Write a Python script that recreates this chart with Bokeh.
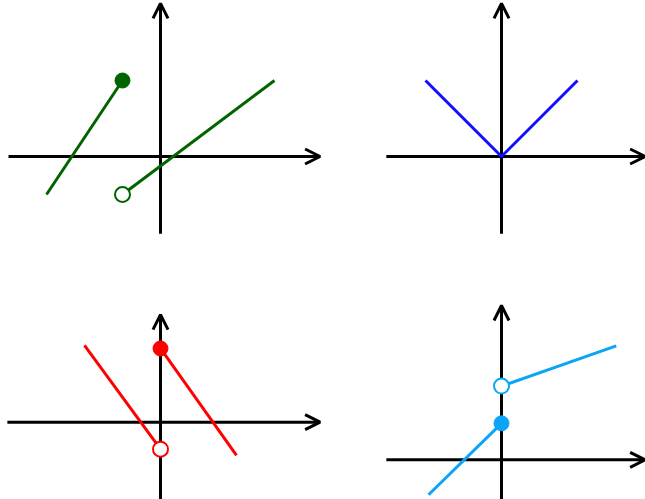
from bokeh.plotting import figure
from bokeh.layouts import column, row
from bokeh.models import Arrow, OpenHead, Range1d
from bokeh.embed import file_html
from bokeh.resources import INLINE

# ---- data (units) ----
# Panel 1: dark green, jump at x=-1
p1_seg_a_x = [-3, -1]
p1_seg_a_y = [-1, 2]
p1_seg_b_x = [-1, 3]
p1_seg_b_y = [-1, 2]
p1_closed = (-1, 2)
p1_open = (-1, -1)
p1_xaxis = (-4.0, 4.2)
p1_yaxis = (-2.03, 4.03)

# Panel 2: blue V
p2_v_x = [-2, 0, 2]
p2_v_y = [2, 0, 2]
p2_xaxis = (-3.03, 3.78)
p2_yaxis = (-2.03, 4.03)

# Panel 3: red, jump at x=0
p3_seg_a_x = [-2, 0]
p3_seg_a_y = [2.02, -0.71]
p3_seg_b_x = [0, 2]
p3_seg_b_y = [1.94, -0.87]
p3_closed = (0, 1.94)
p3_open = (0, -0.71)
p3_xaxis = (-4.03, 4.2)
p3_yaxis = (-2.1, 2.83)

# Panel 4: light blue, jump at x=0
p4_seg_a_x = [-1.92, 0]
p4_seg_a_y = [-0.92, 0.96]
p4_seg_b_x = [0, 3.02]
p4_seg_b_y = [1.94, 3.0]
p4_closed = (0, 0.96)
p4_open = (0, 1.94)
p4_xaxis = (-3.03, 3.78)
p4_yaxis = (-1.2, 4.06)

# ---- layout constants (pixels) ----
UNIT = 38.0
LEFT_W, RIGHT_W = 330, 315
TOP_H, BOT_H = 253, 246


def make_panel(w, h, ox, oy, xaxis, yaxis):
    # ox, oy: origin pixel position inside the figure (from left, from top)
    p = figure(width=w, height=h, output_backend="svg", toolbar_location=None,
               x_axis_location=None, y_axis_location=None, min_border=0,
               x_range=Range1d(-ox / UNIT, (w - ox) / UNIT),
               y_range=Range1d(-(h - oy) / UNIT, oy / UNIT))
    p.grid.grid_line_color = None
    p.outline_line_color = None
    p.background_fill_color = "white"
    p.border_fill_color = "white"
    p.add_layout(Arrow(end=OpenHead(size=15, line_width=3, line_color="black"),
                       x_start=xaxis[0], y_start=0, x_end=xaxis[1], y_end=0,
                       line_width=3, line_color="black", level="underlay"))
    p.add_layout(Arrow(end=OpenHead(size=15, line_width=3, line_color="black"),
                       x_start=0, y_start=yaxis[0], x_end=0, y_end=yaxis[1],
                       line_width=3, line_color="black", level="underlay"))
    return p


def dots(p, closed, opened, color):
    p.scatter([closed[0]], [closed[1]], size=15, fill_color=color, line_color=color)
    p.scatter([opened[0]], [opened[1]], size=15, fill_color="white", line_color=color,
              line_width=2)


GREEN = "#006400"
BLUE = "#1010ff"
RED = "#ff0000"
LBLUE = "#0aa5f5"

p1 = make_panel(LEFT_W, TOP_H, 160, 156, p1_xaxis, p1_yaxis)
p1.line(p1_seg_a_x, p1_seg_a_y, line_color=GREEN, line_width=3)
p1.line(p1_seg_b_x, p1_seg_b_y, line_color=GREEN, line_width=3)
dots(p1, p1_closed, p1_open, GREEN)

p2 = make_panel(RIGHT_W, TOP_H, 171, 156, p2_xaxis, p2_yaxis)
p2.line(p2_v_x, p2_v_y, line_color=BLUE, line_width=3)

p3 = make_panel(LEFT_W, BOT_H, 160, 168.7, p3_xaxis, p3_yaxis)
p3.line(p3_seg_a_x, p3_seg_a_y, line_color=RED, line_width=3)
p3.line(p3_seg_b_x, p3_seg_b_y, line_color=RED, line_width=3)
dots(p3, p3_closed, p3_open, RED)

p4 = make_panel(RIGHT_W, BOT_H, 171, 206.3, p4_xaxis, p4_yaxis)
p4.line(p4_seg_a_x, p4_seg_a_y, line_color=LBLUE, line_width=3)
p4.line(p4_seg_b_x, p4_seg_b_y, line_color=LBLUE, line_width=3)
dots(p4, p4_closed, p4_open, LBLUE)

layout = column(row(p1, p2), row(p3, p4))
open("out.html", "w").write(file_html(layout, INLINE))
